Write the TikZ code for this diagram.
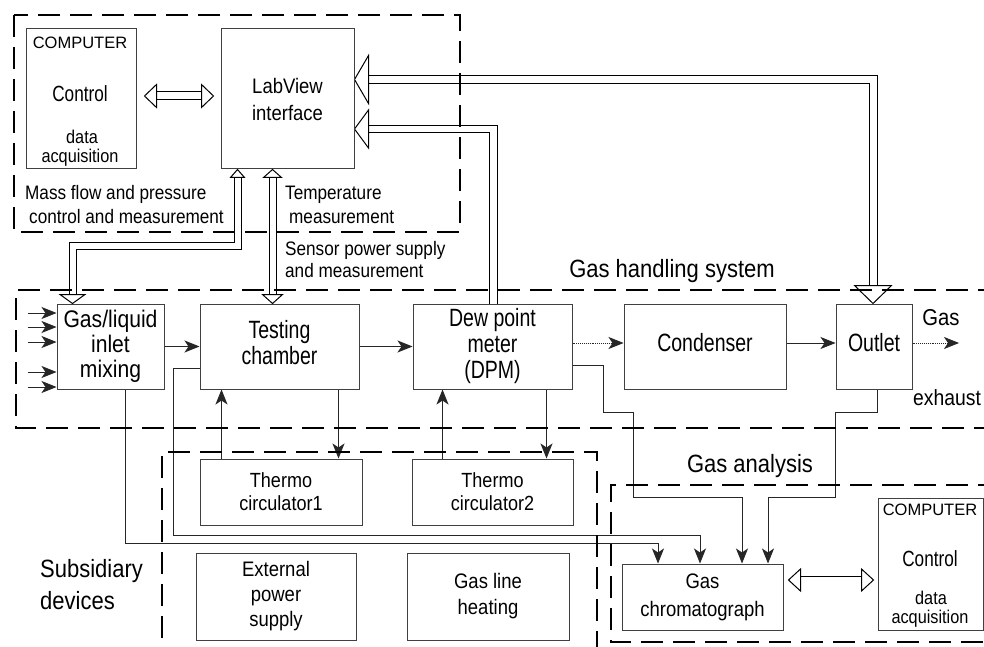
\documentclass[tikz,border=0pt]{standalone}
\usepackage{fontspec}
\setmainfont{Liberation Sans}
\newfontfamily\fn[FakeStretch=0.88]{Liberation Sans}
\newfontfamily\fc[FakeStretch=0.78]{Liberation Sans}
\usetikzlibrary{arrows.meta,calc}
\pgfdeclarelayer{bg}
\pgfsetlayers{bg,main}
\newcommand\fsz[2]{\fontsize{#1pt}{#2pt}\selectfont}
\tikzset{
  pics/hh/.style 2 args={code={\draw[line width=1pt,fill=white,line join=miter] (0,0) -- (-#1,-#2/2) -- (-#1,#2/2) -- cycle;}}
}
\begin{document}
\begin{tikzpicture}[x=1pt,y=-1pt,
  box/.style={draw=black!75, line width=1pt, inner sep=0pt, align=center},
  lbl/.style={inner sep=0pt},
  frame/.style={line width=2.3pt, dash pattern=on 22pt off 10pt},
  conn/.style={draw=black!85, line width=0.9pt},
  arr/.style={conn, -{Stealth[length=15pt,width=12pt,inset=4pt]}},
  dbl/.style={draw=black, line width=1pt, double=white, double distance=#1, line join=miter},
  dbl/.default=6pt]
\useasboundingbox (0,0) rectangle (984,647);
\begin{pgfonlayer}{bg}
\fill[white] (0,0) rectangle (984,647);
\end{pgfonlayer}
\clip (0,0) rectangle (984,647);

% ---------- top group ----------
\node[box, minimum width=110pt, minimum height=140pt] (comp1) at (81,99) {};
\node[lbl, anchor=base, font=\fsz{16.5}{16.5}] (c1a) at (80,49) {COMPUTER};
\node[lbl, anchor=base, font=\fc\fsz{22}{22}] (c1b) at (80,102) {Control};
\node[lbl, anchor=base, font=\fn\fsz{18.5}{18.5}] (c1c) at (82,144) {data};
\node[lbl, anchor=base, font=\fn\fsz{18.5}{18.5}] (c1d) at (80,163) {acquisition};

\node[box, minimum width=133pt, minimum height=140pt, font=\fn\fsz{21}{27}] (lab) at (287.5,99) {LabView\\interface};

\node[lbl, anchor=base west, font=\fn\fsz{19.5}{19.5}] (mf1) at (25,199) {Mass flow and pressure};
\node[lbl, anchor=base west, font=\fn\fsz{19.5}{19.5}] (mf2) at (29,223) {control and measurement};
\node[lbl, anchor=base west, font=\fn\fsz{19.5}{19.5}] (tm1) at (285,200) {Temperature};
\node[lbl, anchor=base west, font=\fn\fsz{19.5}{19.5}] (tm2) at (289,223) {measurement};
\node[lbl, anchor=base west, font=\fn\fsz{19.5}{19.5}] (sp1) at (285,255) {Sensor power supply};
\node[lbl, anchor=base west, font=\fn\fsz{19.5}{19.5}] (sp2) at (285,277) {and measurement};

\node[lbl, anchor=base, font=\fn\fsz{25}{25}] (ghs) at (672,277) {Gas handling system};

% ---------- gas handling row ----------
\node[box, minimum width=107pt, minimum height=85pt, font=\fn\fsz{24}{25}] (gasliq) at (110.5,346.5) {Gas/liquid\\inlet\\mixing};
\node[box, minimum width=159pt, minimum height=85pt] (test) at (279.5,346.5) {};
\node[lbl, align=center, font=\fc\fsz{25}{26}] (testl) at (279.5,343) {Testing\\chamber};
\node[box, minimum width=159pt, minimum height=85pt, font=\fc\fsz{25}{26}] (dpm) at (492.5,346.5) {Dew point\\meter\\(DPM)};
\node[box, minimum width=162pt, minimum height=85pt] (cond) at (705,346.5) {};
\node[lbl, anchor=base, font=\fc\fsz{25}{26}] (condl) at (705,351) {Condenser};
\node[box, minimum width=76pt, minimum height=85pt] (outlet) at (874,346.5) {};
\node[lbl, anchor=base, font=\fc\fsz{25}{26}] (outl) at (874,351) {Outlet};

\node[lbl, anchor=base, font=\fn\fsz{23}{23}] (gasl) at (941,325) {Gas};
\node[lbl, anchor=base west, font=\fn\fsz{22}{22}] (exh) at (913,405) {exhaust};

% ---------- subsidiary ----------
\node[box, minimum width=162pt, minimum height=66pt, font=\fn\fsz{20.5}{23}] (th1) at (281,492) {Thermo\\circulator1};
\node[box, minimum width=161pt, minimum height=66pt, font=\fn\fsz{20.5}{23}] (th2) at (492.5,492) {Thermo\\circulator2};
\node[box, minimum width=160pt, minimum height=87pt, font=\fn\fsz{21}{25}] (ext) at (276,596.5) {External\\power\\supply};
\node[box, minimum width=162pt, minimum height=87pt, font=\fn\fsz{21}{26}] (glh) at (488,596.5) {Gas line\\heating};
\node[lbl, anchor=base west, font=\fn\fsz{25}{25}] (sub1) at (40,577) {Subsidiary};
\node[lbl, anchor=base west, font=\fn\fsz{25}{25}] (sub2) at (40,609) {devices};

% ---------- gas analysis ----------
\node[lbl, anchor=base, font=\fn\fsz{25}{25}] (gal) at (750,472) {Gas analysis};
\node[box, minimum width=161pt, minimum height=66pt, font=\fn\fsz{21}{28}] (gc) at (702.5,597) {Gas\\chromatograph};
\node[box, minimum width=105pt, minimum height=132pt] (comp2) at (930.5,564) {};
\node[lbl, anchor=base, font=\fsz{16.5}{16.5}] (c2a) at (930,515) {COMPUTER};
\node[lbl, anchor=base, font=\fc\fsz{22}{22}] (c2b) at (930,566) {Control};
\node[lbl, anchor=base, font=\fn\fsz{18.5}{18.5}] (c2c) at (931,604) {data};
\node[lbl, anchor=base, font=\fn\fsz{18.5}{18.5}] (c2d) at (930,623) {acquisition};

% ---------- connectors ----------
\begin{pgfonlayer}{bg}
\draw[arr] (gasliq.east) -- (test.west);
\draw[arr] (test.east) -- (dpm.west);
\draw[arr, densely dotted] ([yshift=3.5pt]dpm.east) -- ([yshift=3.5pt]cond.west);
\draw[arr] ([yshift=3.5pt]cond.east) -- ([yshift=3.5pt]outlet.west);
\coordinate (gasx) at (959,343);
\draw[arr, densely dotted] ([yshift=3.5pt]outlet.east) -- (gasx);
\draw[arr] ([xshift=22pt]th1.north west) -- ([xshift=22pt]test.south west);
\draw[arr] ([xshift=139pt]test.south west) -- ([xshift=139pt]th1.north west);
\draw[arr] ([xshift=31pt]th2.north west) -- ([xshift=30pt]dpm.south west);
\draw[arr] ([xshift=134pt]dpm.south west) -- ([xshift=135pt]th2.north west);
\foreach \s in {33.5,19.5,4.5,-25.5,-40.5}{
  \draw[arr] ([xshift=-29pt,yshift=\s pt]gasliq.west) -- ([yshift=\s pt]gasliq.west);
}
% lines to the gas chromatograph
\coordinate (w10) at (173,535);
\draw[arr] ([yshift=-21.5pt]test.west) -| (w10) -| ([xshift=-2.5pt]gc.north);
\coordinate (w11) at (0,543);
\coordinate (g0) at ([xshift=69pt]gasliq.south west);
\coordinate (g11) at ([xshift=-44.5pt]gc.north);
\draw[arr] (g0) -- (g0 |- w11) -| (g11);
\coordinate (d12) at ([yshift=-18.5pt]dpm.east);
\coordinate (w12a) at (603,412);
\coordinate (w12b) at (633,497);
\coordinate (g12) at ([xshift=39.5pt]gc.north);
\draw[arr] (d12) -| (w12a) -| (w12b) -| (g12);
\coordinate (o13) at ([xshift=3pt]outlet.south);
\coordinate (w13a) at (835,412);
\coordinate (w13b) at (768,497);
\coordinate (g13) at ([xshift=65.5pt]gc.north);
\draw[arr] (o13) |- (w13a) |- (w13b) -- (g13);

% hollow double arrows
\coordinate (a1) at ([xshift=8pt,yshift=3pt]comp1.east);
\coordinate (a2) at ([xshift=-7pt,yshift=3pt]lab.west);
\draw[dbl=7pt] ([xshift=11pt]a1) -- ([xshift=-11pt]a2);
\pic[rotate=180] at (a1) {hh={12}{23}};
\pic at (a2) {hh={12}{23}};

\coordinate (b1) at ([xshift=17pt]lab.south west);
\coordinate (b2) at ([xshift=16pt]gasliq.north west);
\coordinate (bm) at (0,246);
\draw[dbl=6pt] ([yshift=-7pt]b1) -- (b1 |- bm) -- (b2 |- bm) -- ([yshift=8pt]b2);
\pic[rotate=90] at (b1) {hh={8}{14}};
\pic[rotate=-90] at (b2) {hh={9}{25}};

\coordinate (c1) at ([xshift=52pt]lab.south west);
\coordinate (c2) at ([xshift=73pt]test.north west);
\draw[dbl=6pt] ([yshift=-7pt]c1) -- ([yshift=8pt]c2);
\pic[rotate=90] at (c1) {hh={8}{18}};
\pic[rotate=-90] at (c2) {hh={9}{20}};

\coordinate (d1) at ([xshift=81pt]dpm.north west);
\coordinate (d2) at ([yshift=-30pt]lab.east);
\draw[dbl=6.5pt] (d1) -- (d1 |- d2) -- ([xshift=13pt]d2);
\pic[rotate=180] at (d2) {hh={14}{38}};

\coordinate (e1) at ([xshift=-1pt]outlet.north);
\coordinate (e2) at ([yshift=19.5pt]lab.east);
\draw[dbl=7pt] ([yshift=17pt]e1) -- (e1 |- e2) -- ([xshift=13pt]e2);
\pic[rotate=-90] at (e1) {hh={18}{37}};
\pic[rotate=180] at (e2) {hh={14}{48}};

\coordinate (f1) at ([xshift=5pt,yshift=17pt]gc.east);
\coordinate (f2) at ([xshift=-4pt,yshift=-16pt]comp2.west);
\draw[dbl=7pt, line width=0.8pt] ([xshift=11pt]f1) -- ([xshift=-11pt]f2);
\pic[rotate=180] at (f1) {hh={12}{22}};
\pic at (f2) {hh={12}{22}};
\end{pgfonlayer}

% ---------- dashed frames ----------
\draw[frame] (14,15) rectangle (460,232);
\draw[frame] (1000,290) -- (16,290) -- (16,428) -- (1000,428);
\draw[frame] (162,670) -- (162,452) -- (597,452) -- (597,670);
\draw[frame] (1000,485) -- (611,485) -- (611,642) -- (1000,642);
\end{tikzpicture}
\end{document}
